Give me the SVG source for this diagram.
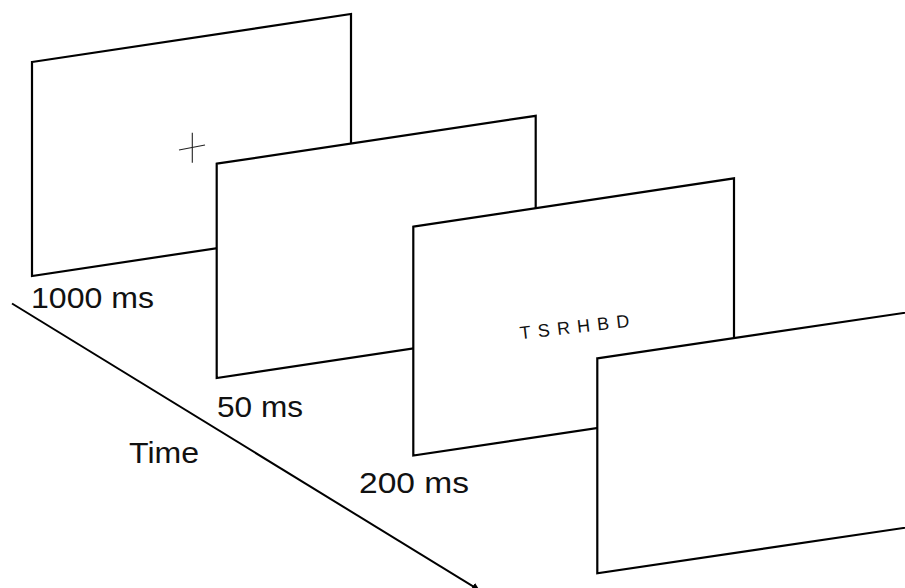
<svg xmlns="http://www.w3.org/2000/svg" width="905" height="588" viewBox="0 0 905 588">
  <style>
    .panel { fill: #fff; stroke: #000; stroke-width: 2.2; stroke-linejoin: miter; }
    .lbl { font-family: "Liberation Sans", Arial, sans-serif; font-size: 30px; fill: #111; }
    .stim { font-family: "Liberation Sans", Arial, sans-serif; font-size: 18px; fill: #111; }
  </style>
  <defs>
    <marker id="arrow" viewBox="0 0 10 10" refX="9" refY="5" markerWidth="4" markerHeight="4" orient="auto" markerUnits="strokeWidth">
      <path d="M0,0 L10,5 L0,10 z" fill="#000"/>
    </marker>
  </defs>
  <rect width="905" height="588" fill="#fff"/>

  <g id="connectors">
    <line x1="12" y1="303.5" x2="479" y2="590" stroke="#000" stroke-width="2" marker-end="url(#arrow)"/>
  </g>

  <g id="frame1">
    <polygon class="panel" points="32,62 351,14 351,228 32,276"/>
    <line x1="192.3" y1="132.7" x2="192.3" y2="162.7" stroke="#222" stroke-width="1.1"/>
    <line x1="179" y1="150" x2="205" y2="145" stroke="#222" stroke-width="1.1"/>
  </g>
  <g id="frame2">
    <polygon class="panel" points="216.7,163.7 535.7,115.8 535.7,330 216.7,378"/>
  </g>
  <g id="frame3">
    <polygon class="panel" points="413.3,226.7 734,178.3 734,407.5 413.3,455.5"/>
    <text class="stim" x="520.5" y="339.3" textLength="110" lengthAdjust="spacing" transform="rotate(-6.5 520.5 339.3)">TSRHBD</text>
  </g>
  <g id="frame4">
    <polygon class="panel" points="597.3,358.3 960,304.6 960,519.6 597.3,573.3"/>
  </g>

  <g id="labels">
    <text class="lbl" x="31" y="308" textLength="123" lengthAdjust="spacingAndGlyphs">1000 ms</text>
    <text class="lbl" x="217" y="417" textLength="86" lengthAdjust="spacingAndGlyphs">50 ms</text>
    <text class="lbl" x="359" y="493" textLength="110" lengthAdjust="spacingAndGlyphs">200 ms</text>
    <text class="lbl" x="129" y="463" textLength="70" lengthAdjust="spacingAndGlyphs">Time</text>
  </g>
</svg>
